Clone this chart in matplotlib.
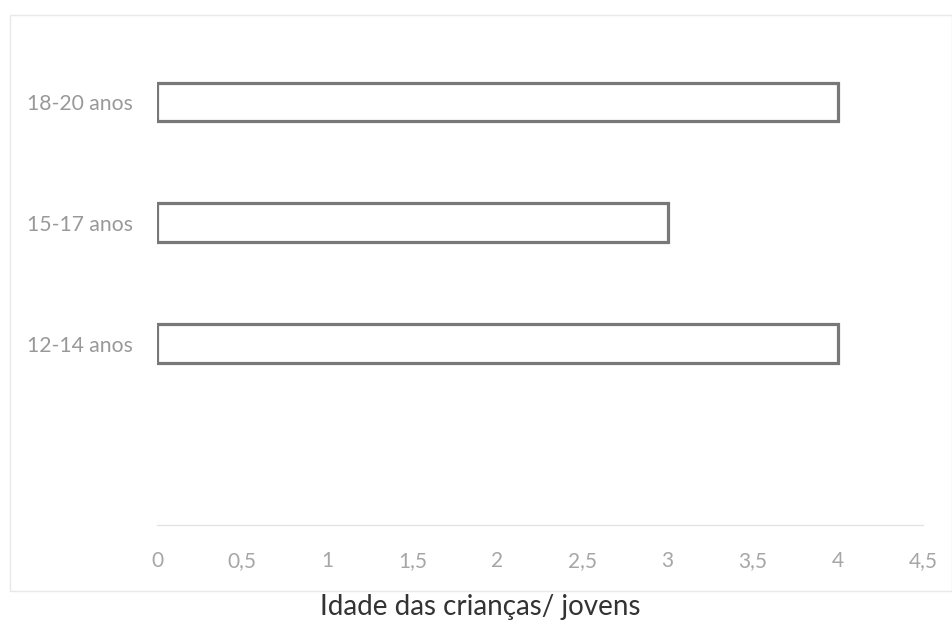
import matplotlib
matplotlib.use("Agg")
import matplotlib.pyplot as plt
from matplotlib.patches import Rectangle

categories = ["12-14 anos", "15-17 anos", "18-20 anos"]
values = [4, 3, 4]
xticks = [0, 0.5, 1, 1.5, 2, 2.5, 3, 3.5, 4, 4.5]
xtick_labels = ["0", "0,5", "1", "1,5", "2", "2,5", "3", "3,5", "4", "4,5"]
xlabel = "Idade das crianças/ jovens"

plt.rcParams['font.family'] = ['Lato', 'DejaVu Sans']

fig = plt.figure(figsize=(9.53, 6.42), dpi=100)
ax = fig.add_axes([0.1647, 0.1822, 0.8038, 0.7532])

# light frame around the chart area
fig.patches.append(Rectangle((10 / 953, 1 - 591 / 642), 942 / 953, 576 / 642,
                             transform=fig.transFigure, fill=False,
                             edgecolor="#e8e8e8", linewidth=1))

pos = list(range(len(categories)))
ax.barh(pos, values, height=0.32, color="white", edgecolor="#787878", linewidth=2.3)

ax.set_xlim(0, 4.5)
ax.set_ylim(-1.5, 2.5)
ax.set_xticks(xticks)
ax.set_xticklabels(xtick_labels)
ax.set_yticks(pos)
ax.set_yticklabels(categories)
ax.tick_params(axis="x", length=0, pad=19, labelsize=15, labelcolor="#a6a6a6")
ax.tick_params(axis="y", length=0, pad=17, labelsize=15.2, labelcolor="#999999")

for s in ["top", "right", "left"]:
    ax.spines[s].set_visible(False)
ax.spines["bottom"].set_color("#e4e4e4")
ax.spines["bottom"].set_linewidth(1)

fig.text(0.504, 0.055, xlabel, ha="center", va="center", fontsize=20, color="#333333")

fig.savefig("out.png", dpi=100)
